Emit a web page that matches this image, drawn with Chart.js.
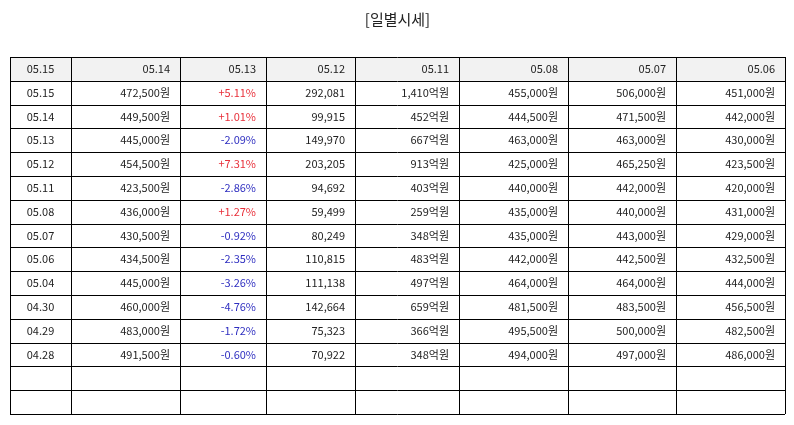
<!DOCTYPE html>
<html>
<head>
<meta charset="utf-8">
<script src="https://cdn.jsdelivr.net/npm/chart.js@4"></script>
<style>
  html, body { margin: 0; padding: 0; background: #fff; }
  #wrap { width: 794px; height: 425px; }
</style>
</head>
<body>
<div id="wrap"><canvas id="tableChart"></canvas></div>
<script>
const headers = ["05.15", "05.14", "05.13", "05.12", "05.11", "05.08", "05.07", "05.06"];
const dates = ["05.15", "05.14", "05.13", "05.12", "05.11", "05.08", "05.07", "05.06", "05.04", "04.30", "04.29", "04.28"];
const closes = ["472,500원", "449,500원", "445,000원", "454,500원", "423,500원", "436,000원", "430,500원", "434,500원", "445,000원", "460,000원", "483,000원", "491,500원"];
const changes = ["+5.11%", "+1.01%", "-2.09%", "+7.31%", "-2.86%", "+1.27%", "-0.92%", "-2.35%", "-3.26%", "-4.76%", "-1.72%", "-0.60%"];
const volumes = ["292,081", "99,915", "149,970", "203,205", "94,692", "59,499", "80,249", "110,815", "111,138", "142,664", "75,323", "70,922"];
const amounts = ["1,410억원", "452억원", "667억원", "913억원", "403억원", "259억원", "348억원", "483억원", "497억원", "659억원", "366억원", "348억원"];
const opens = ["455,000원", "444,500원", "463,000원", "425,000원", "440,000원", "435,000원", "435,000원", "442,000원", "464,000원", "481,500원", "495,500원", "494,000원"];
const highs = ["506,000원", "471,500원", "463,000원", "465,250원", "442,000원", "440,000원", "443,000원", "442,500원", "464,000원", "483,500원", "500,000원", "497,000원"];
const lows = ["451,000원", "442,000원", "430,000원", "423,500원", "420,000원", "431,000원", "429,000원", "432,500원", "444,000원", "456,500원", "482,500원", "486,000원"];
const emptyRows = 2;

// relative column widths
const colWidths = [61, 109, 86, 89, 104, 109, 108, 109];
const colEdges = colWidths.reduce((acc, w) => { acc.push(acc[acc.length - 1] + w); return acc; }, [0]);
const rowCount = 1 + dates.length + emptyRows;

const tablePlugin = {
  id: 'tablePlugin',
  afterDraw(chart) {
    const ctx = chart.ctx;
    const xs = chart.scales.x, ys = chart.scales.y;
    const X = v => xs.getPixelForValue(v);
    const Y = v => ys.getPixelForValue(v);
    ctx.save();
    // header background
    ctx.fillStyle = '#f2f2f2';
    ctx.fillRect(X(0), Y(0), X(colEdges[colEdges.length - 1]) - X(0), Y(1) - Y(0));
    ctx.font = '11px "Noto Sans CJK KR", "Noto Sans", sans-serif';
    ctx.textBaseline = 'middle';
    const cols = [dates, closes, changes, volumes, amounts, opens, highs, lows];
    for (let r = 0; r < rowCount; r++) {
      const cy = (Y(r) + Y(r + 1)) / 2;
      for (let c = 0; c < colWidths.length; c++) {
        let text = '';
        if (r === 0) text = headers[c];
        else if (r - 1 < dates.length) text = cols[c][r - 1];
        if (!text) continue;
        ctx.fillStyle = '#222';
        if (c === 2 && r > 0) ctx.fillStyle = text.startsWith('+') ? '#e8303a' : '#2f2fc0';
        if (c === 0) {
          ctx.textAlign = 'center';
          ctx.fillText(text, (X(colEdges[0]) + X(colEdges[1])) / 2, cy);
        } else {
          ctx.textAlign = 'right';
          ctx.fillText(text, X(colEdges[c + 1]) - 10, cy);
        }
      }
    }
    // grid lines
    ctx.strokeStyle = '#000';
    ctx.lineWidth = 1;
    ctx.beginPath();
    for (let r = 0; r <= rowCount; r++) {
      const y = Math.round(Y(r)) + 0.5;
      ctx.moveTo(X(0), y); ctx.lineTo(X(colEdges[colEdges.length - 1]), y);
    }
    colEdges.forEach(e => {
      const x = Math.round(X(e)) + 0.5;
      ctx.moveTo(x, Y(0)); ctx.lineTo(x, Y(rowCount));
    });
    ctx.stroke();
    ctx.restore();
  }
};

new Chart(document.getElementById('tableChart'), {
  type: 'scatter',
  data: { datasets: [{ data: [] }] },
  options: {
    responsive: true,
    maintainAspectRatio: false,
    animation: false,
    layout: { padding: { left: 10, right: 9, top: 10, bottom: 11 } },
    plugins: {
      legend: { display: false },
      tooltip: { enabled: false },
      title: {
        display: true,
        text: '[일별시세]',
        color: '#222',
        font: { size: 15, family: '"Noto Sans CJK KR", sans-serif', weight: 'normal' },
        padding: { top: 0, bottom: 29 }
      }
    },
    scales: {
      x: { type: 'linear', display: false, min: 0, max: colEdges[colEdges.length - 1] },
      y: { type: 'linear', display: false, min: 0, max: rowCount, reverse: true }
    }
  },
  plugins: [tablePlugin]
});
</script>
</body>
</html>
